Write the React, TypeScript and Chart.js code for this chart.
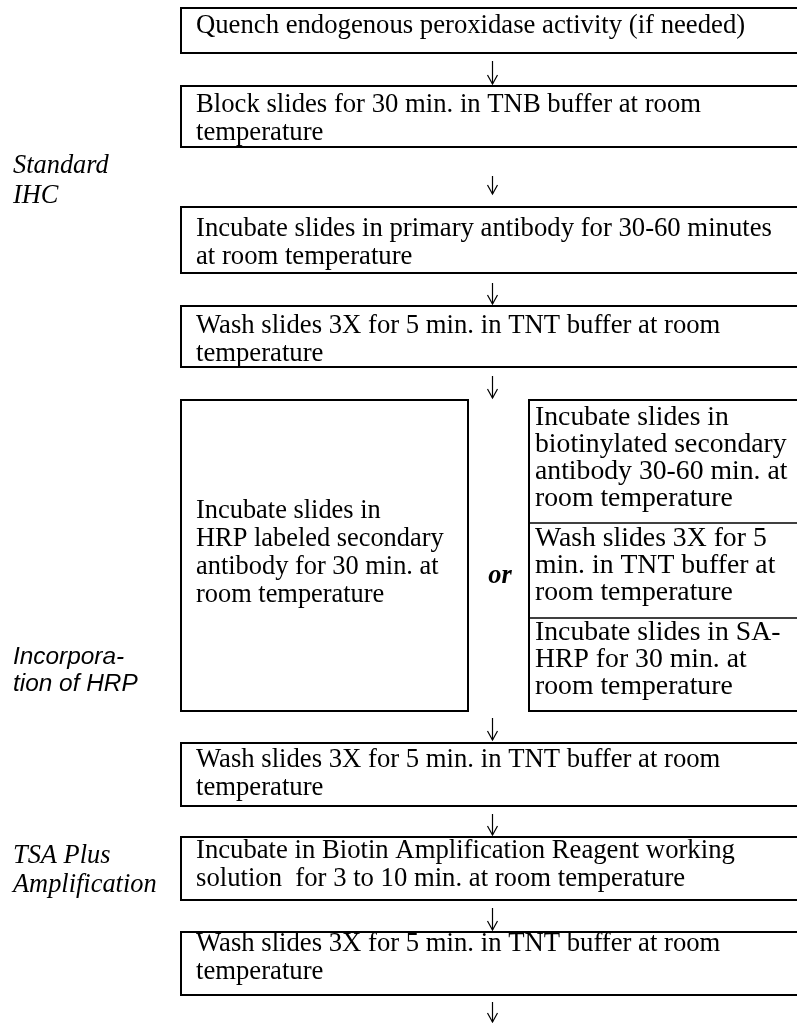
import React, { useEffect, useRef } from "react";
import { Chart, registerables } from "chart.js";

Chart.register(...registerables);

// ---- content (data) ----
const mainSteps: string[][] = [
  ["Quench endogenous peroxidase activity (if needed)"],
  ["Block slides for 30 min. in TNB buffer at room", "temperature"],
  ["Incubate slides in primary antibody for 30-60 minutes", "at room temperature"],
  ["Wash slides 3X for 5 min. in TNT buffer at room", "temperature"],
  ["Wash slides 3X for 5 min. in TNT buffer at room", "temperature"],
  ["Incubate in Biotin Amplification Reagent working", "solution  for 3 to 10 min. at room temperature"],
  ["Wash slides 3X for 5 min. in TNT buffer at room", "temperature"],
];
const directOption: string[] = [
  "Incubate slides in",
  "HRP labeled secondary",
  "antibody for 30 min. at",
  "room temperature",
];
const indirectOption: string[][] = [
  ["Incubate slides in", "biotinylated secondary", "antibody 30-60 min. at", "room temperature"],
  ["Wash slides 3X for 5", "min. in TNT buffer at", "room temperature"],
  ["Incubate slides in SA-", "HRP for 30 min. at", "room temperature"],
];
const orLabel = "or";
const sectionLabels: string[][] = [
  ["Standard", "IHC"],
  ["Incorpora-", "tion of HRP"],
  ["TSA Plus", "Amplification"],
];

// ---- layout (positions in page pixels, mapped through the chart scales) ----
const mainLayout = [
  { top: 8, bottom: 53, base: 33 },
  { top: 86, bottom: 147, base: 112 },
  { top: 207, bottom: 273, base: 236 },
  { top: 306, bottom: 367, base: 333 },
  { top: 743, bottom: 806, base: 767 },
  { top: 837, bottom: 900, base: 858 },
  { top: 932, bottom: 995, base: 951 },
];
const mainLeft = 181;
const mainRight = 802;
const textLeft = 196;
const lineGap = 28;
const splitTop = 400;
const splitBottom = 711;
const directBox = { left: 181, right: 468, base: 518, gap: 28 };
const indirectBox = { left: 529, right: 802, textLeft: 535, gap: 27, stretch: 1.05 };
const indirectDividers = [523, 618];
const indirectBases = [425, 546, 640];
const orPos = { x: 500, y: 583 };
const arrowX = 492;
const arrowTips = [84, 194, 304, 398, 740, 835, 930, 1022];
const arrowLens = [23, 18, 21, 22, 22, 21, 22, 20];
const labelLayout = [
  { x: 13, bases: [173, 203], font: "italic 26.4px \"Liberation Serif\", \"Times New Roman\", serif" },
  { x: 13, bases: [664, 691], font: "italic 24.4px \"Liberation Sans\", Arial, sans-serif" },
  { x: 13, bases: [863, 892], font: "italic 26.4px \"Liberation Serif\", \"Times New Roman\", serif" },
];
const bodyFont = "26.7px \"Liberation Serif\", \"Times New Roman\", serif";
const splitFont = "26.4px \"Liberation Serif\", \"Times New Roman\", serif";
const orFont = "bold italic 26.4px \"Liberation Serif\", \"Times New Roman\", serif";

const flowPlugin = {
  id: "flow",
  afterDraw(chart: any) {
    const ctx: CanvasRenderingContext2D = chart.ctx;
    const xs = chart.scales.x;
    const ys = chart.scales.y;
    const X = (v: number) => xs.getPixelForValue(v);
    const Y = (v: number) => ys.getPixelForValue(v);
    ctx.save();
    ctx.fillStyle = "#ffffff";
    ctx.fillRect(0, 0, chart.width, chart.height);
    ctx.strokeStyle = "#000";
    ctx.fillStyle = "#000";
    ctx.lineWidth = 2;
    ctx.textBaseline = "alphabetic";
    ctx.textAlign = "left";

    const rect = (l: number, t: number, r: number, b: number) => {
      ctx.strokeRect(X(l), Y(t), X(r) - X(l), Y(b) - Y(t));
    };

    // main boxes
    ctx.font = bodyFont;
    mainSteps.forEach((lines, i) => {
      const L = mainLayout[i];
      rect(mainLeft, L.top, mainRight, L.bottom);
      lines.forEach((s, j) => ctx.fillText(s, X(textLeft), Y(L.base + j * lineGap)));
    });

    // split: direct option
    ctx.font = splitFont;
    rect(directBox.left, splitTop, directBox.right, splitBottom);
    directOption.forEach((s, j) =>
      ctx.fillText(s, X(directBox.left + 15), Y(directBox.base + j * directBox.gap))
    );

    // split: indirect option
    rect(indirectBox.left, splitTop, indirectBox.right, splitBottom);
    ctx.lineWidth = 1.6;
    indirectDividers.forEach((d) => {
      ctx.beginPath();
      ctx.moveTo(X(indirectBox.left), Y(d));
      ctx.lineTo(X(indirectBox.right), Y(d));
      ctx.stroke();
    });
    ctx.lineWidth = 2;
    indirectOption.forEach((lines, i) => {
      lines.forEach((s, j) => {
        ctx.save();
        ctx.translate(X(indirectBox.textLeft), Y(indirectBases[i] + j * indirectBox.gap));
        ctx.scale(indirectBox.stretch, 1);
        ctx.fillText(s, 0, 0);
        ctx.restore();
      });
    });

    // "or"
    ctx.font = orFont;
    ctx.textAlign = "center";
    ctx.fillText(orLabel, X(orPos.x), Y(orPos.y));
    ctx.textAlign = "left";

    // arrows
    ctx.lineWidth = 1.2;
    arrowTips.forEach((tip, i) => {
      const top = tip - arrowLens[i];
      const x = X(arrowX) + 0.5;
      ctx.beginPath();
      ctx.moveTo(x, Y(top));
      ctx.lineTo(x, Y(tip));
      ctx.stroke();
      ctx.beginPath();
      ctx.moveTo(x - 5, Y(tip - 9));
      ctx.lineTo(x, Y(tip));
      ctx.lineTo(x + 5, Y(tip - 9));
      ctx.stroke();
    });

    // section labels
    sectionLabels.forEach((lines, i) => {
      const L = labelLayout[i];
      ctx.font = L.font;
      lines.forEach((s, j) => ctx.fillText(s, X(L.x), Y(L.bases[j])));
    });
    ctx.restore();
  },
};

export default function App() {
  const ref = useRef<HTMLCanvasElement | null>(null);
  useEffect(() => {
    if (!ref.current) return;
    const chart = new Chart(ref.current, {
      type: "scatter",
      data: { datasets: [{ data: [], pointRadius: 0 }] },
      options: {
        animation: false,
        responsive: false,
        maintainAspectRatio: false,
        devicePixelRatio: 1,
        layout: { padding: 0 },
        events: [],
        plugins: { legend: { display: false }, tooltip: { enabled: false } },
        scales: {
          x: { type: "linear", min: 0, max: 797, display: false },
          y: { type: "linear", min: 0, max: 1023, reverse: true, display: false },
        },
      },
      plugins: [flowPlugin],
    } as any);
    return () => chart.destroy();
  }, []);
  return (
    <div style={{ position: "fixed", left: 0, top: 0, width: 797, height: 1023, background: "#fff" }}>
      <canvas ref={ref} width={797} height={1023} style={{ display: "block" }} />
    </div>
  );
}
